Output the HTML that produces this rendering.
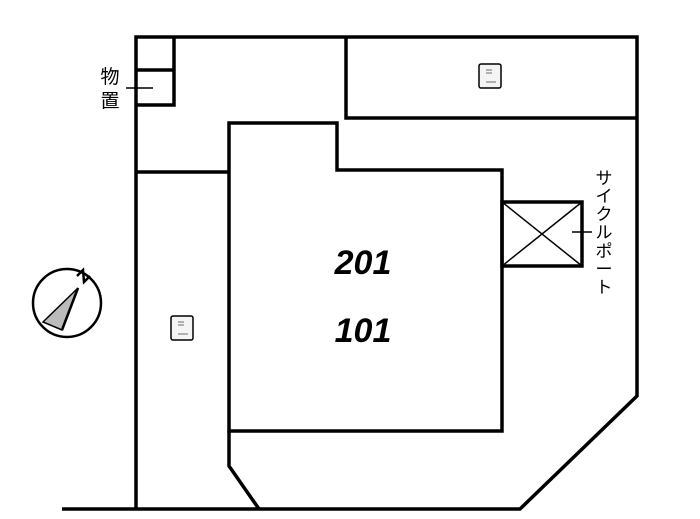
<!DOCTYPE html>
<html><head><meta charset="utf-8"><style>
html,body{margin:0;padding:0;background:#fff;width:700px;height:519px;overflow:hidden}
</style></head><body>
<svg width="700" height="519" viewBox="0 0 700 519" xmlns="http://www.w3.org/2000/svg">
<g fill="none" stroke="#000" stroke-width="3.5" stroke-linejoin="miter">
<polyline points="136,509 136,37 637,37 637,396 520,509 62,509"/>
<polyline points="346,37 346,118 637,118"/>
<polyline points="174,37 174,105 136,105"/>
<line x1="136" y1="70" x2="174" y2="70"/>
<line x1="136" y1="172" x2="229" y2="172"/>
<polygon points="229,123 337,123 337,170 502,170 502,431 229,431"/>
<polyline points="229,431 229,466 259,509"/>
<rect x="502" y="202" width="80" height="64"/>
</g>
<g stroke="#000" stroke-width="1.5">
<line x1="502" y1="202" x2="582" y2="266"/>
<line x1="582" y1="202" x2="502" y2="266"/>
<line x1="572" y1="232" x2="592" y2="232"/>
<line x1="126" y1="88" x2="153" y2="88"/>
</g>
<g font-family="'Liberation Sans','Noto Sans CJK JP',sans-serif" font-size="19" fill="#000" text-anchor="middle">
<text x="110" y="83">物</text>
<text x="110" y="107">置</text>
</g>
<g font-family="'Liberation Sans','Noto Sans CJK JP',sans-serif" font-size="17" fill="#000" text-anchor="middle">
<text x="604" y="184">サ</text>
<text x="604" y="202">イ</text>
<text x="604" y="220">ク</text>
<text x="604" y="238">ル</text>
<text x="604" y="257">ポ</text>
<text x="604" y="275">ー</text>
<text x="604" y="293">ト</text>
</g>
<g font-family="'Liberation Sans',sans-serif" font-size="34" font-weight="bold" font-style="italic" fill="#000" text-anchor="middle">
<text x="363" y="274">201</text>
<text x="363" y="342">101</text>
</g>
<g fill="#f4f4f4" stroke="#000" stroke-width="1.5">
<rect x="479" y="64" width="22" height="24" rx="2"/>
<rect x="171" y="316" width="22" height="24" rx="2"/>
</g>
<g stroke="#999" stroke-width="1.5">
<line x1="486" y1="70" x2="492" y2="70"/><line x1="486" y1="73" x2="492" y2="73"/><line x1="486" y1="82" x2="496" y2="82"/>
<line x1="178" y1="322" x2="184" y2="322"/><line x1="178" y1="325" x2="184" y2="325"/><line x1="178" y1="334" x2="188" y2="334"/>
</g>
<circle cx="67" cy="303" r="34" fill="none" stroke="#000" stroke-width="2.5"/>
<polygon points="78,288 43,322 62,330" fill="#bbb" stroke="#000" stroke-width="1.5"/>
<line x1="78" y1="288" x2="62" y2="330" stroke="#000" stroke-width="2.5"/>
<polyline points="77,276 83,270 84,282 90,276" fill="none" stroke="#000" stroke-width="2.5"/>
</svg>
</body></html>
